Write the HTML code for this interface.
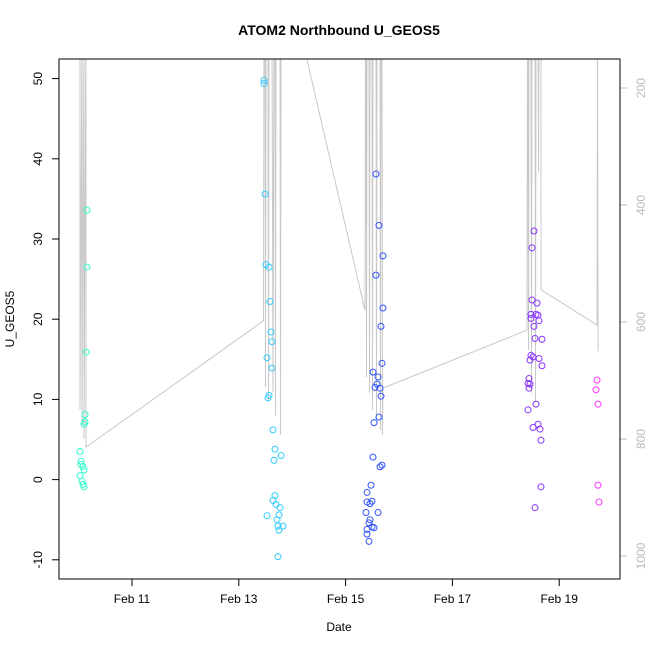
<!DOCTYPE html>
<html><head><meta charset="utf-8"><style>
body{margin:0;background:#fff;}
svg text{font-family:"Liberation Sans",sans-serif;}
</style></head><body>
<svg id="chart" width="650" height="650" xmlns="http://www.w3.org/2000/svg">
<defs><clipPath id="pc"><rect x="59" y="59" width="561" height="520"/></clipPath></defs>
<text x="339" y="35" text-anchor="middle" font-size="14" font-weight="bold">ATOM2 Northbound U_GEOS5</text>
<text x="339" y="631" text-anchor="middle" font-size="12">Date</text>
<text transform="translate(14,319) rotate(-90)" text-anchor="middle" font-size="12">U_GEOS5</text>
<g id="trace" clip-path="url(#pc)"></g>
<g id="pts"></g>
<g id="axes"></g>
<rect x="59" y="59" width="561" height="520" fill="none" stroke="#000"/>
</svg>
<script>
const xTicks=[11,13,15,17,19];
const xTickLabels=["Feb 11","Feb 13","Feb 15","Feb 17","Feb 19"];
const yTicks=[-10,0,10,20,30,40,50];
const pTicks=[200,400,600,800,1000];
const groupColors=["#33ffcc","#33ccff","#3355ff","#8833ff","#ff33ff"];
const g1Days=[10.157,10.157,10.139,10.12,10.12,10.101,10.026,10.045,10.045,10.083,10.101,10.026,10.064,10.083,10.101];
const g1Vals=[33.6,26.5,15.9,8.1,7.2,6.9,3.5,2.3,1.9,1.6,1.2,0.5,-0.2,-0.6,-0.9];
const g2Days=[13.472,13.472,13.491,13.509,13.566,13.584,13.603,13.622,13.528,13.622,13.566,13.547,13.64,13.678,13.79,13.659,13.678,13.64,13.697,13.772,13.528,13.753,13.715,13.734,13.828,13.753,13.734];
const g2Vals=[49.8,49.4,35.6,26.8,26.5,22.2,18.4,17.2,15.2,13.9,10.5,10.2,6.2,3.8,3.0,2.4,-2.0,-2.6,-3.1,-3.5,-4.5,-4.4,-5.0,-5.8,-5.8,-6.3,-9.6];
const g3Days=[15.569,15.625,15.7,15.569,15.7,15.663,15.682,15.513,15.607,15.588,15.551,15.644,15.663,15.625,15.532,15.513,15.682,15.644,15.476,15.401,15.494,15.401,15.457,15.382,15.607,15.457,15.438,15.494,15.532,15.401,15.401,15.438];
const g3Vals=[38.1,31.7,27.9,25.5,21.4,19.1,14.5,13.4,12.8,11.9,11.5,11.4,10.4,7.8,7.1,2.8,1.8,1.6,-0.7,-1.6,-2.7,-2.8,-3.0,-4.1,-4.1,-5.0,-5.4,-5.9,-6.0,-6.2,-6.8,-7.7];
const g4Days=[18.528,18.491,18.491,18.584,18.472,18.566,18.603,18.472,18.622,18.528,18.547,18.678,18.472,18.51,18.453,18.622,18.678,18.434,18.416,18.453,18.434,18.566,18.416,18.603,18.51,18.64,18.659,18.659,18.547];
const g4Vals=[31.0,28.9,22.4,22.0,20.6,20.6,20.5,20.1,19.8,19.1,17.6,17.5,15.5,15.3,14.9,15.1,14.2,12.6,12.0,11.9,11.4,9.4,8.7,6.9,6.5,6.3,4.9,-0.9,-3.5];
const g5Days=[19.708,19.689,19.727,19.727,19.745];
const g5Vals=[12.4,11.2,9.4,-0.7,-2.8];
const traceDays=[10.026,10.026,10.064,10.064,10.101,10.101,10.139,10.139,
13.463,13.472,13.491,13.5,13.509,13.528,13.547,13.556,13.566,13.603,13.622,13.64,13.659,13.678,13.687,13.697,13.715,13.734,13.753,13.772,13.781,13.79,14.146,
15.363,15.373,15.382,15.392,15.401,15.42,15.438,15.448,15.457,15.476,15.494,15.504,15.513,15.532,15.551,15.569,15.578,15.588,15.607,15.625,15.644,15.653,15.663,15.682,15.691,15.7,
18.397,18.406,18.416,18.425,18.434,18.453,18.472,18.481,18.491,18.51,18.528,18.547,18.556,18.566,18.584,18.603,18.612,18.622,18.64,18.659,18.659,19.708,19.718,19.727];
const tracePres=[100,750,100,780,100,800,100,814,
598,100,100,711,100,100,100,737,100,100,100,720,100,100,760,100,100,100,100,100,793,100,100,
580,100,100,694,100,100,100,721,100,100,100,750,100,100,100,100,768,100,100,100,100,785,100,100,793,713,
614,100,100,648,100,100,100,721,100,100,100,100,737,100,100,100,344,100,100,100,545,605,100,650];

const X=d=>132+(d-11)*53.4;
const Y=v=>479.6-v*8.02;
const YP=p=>88+(p-200)*0.585;
const NS="http://www.w3.org/2000/svg";
function mk(tag,attrs,parent){const e=document.createElementNS(NS,tag);for(const k in attrs)e.setAttribute(k,attrs[k]);parent.appendChild(e);return e;}

const trace=document.getElementById('trace');
let d="";
for(let i=0;i<traceDays.length;i++){d+=(i?"L":"M")+X(traceDays[i]).toFixed(1)+","+YP(tracePres[i]).toFixed(1);}
const tl=mk('path',{d:d,fill:"none",stroke:"#c8c8c8","stroke-width":"1"},trace);



const pts=document.getElementById('pts');
const groups=[[g1Days,g1Vals],[g2Days,g2Vals],[g3Days,g3Vals],[g4Days,g4Vals],[g5Days,g5Vals]];
groups.forEach((g,gi)=>{
  for(let i=0;i<g[0].length;i++){
    const c=mk('circle',{cx:X(g[0][i]),cy:Y(g[1][i]),r:3,fill:"none",stroke:groupColors[gi],"stroke-width":"1"},pts);
    
    
  }
});

const ax=document.getElementById('axes');
xTicks.forEach((t,i)=>{
  const x=X(t);
  const l=mk('line',{x1:x,x2:x,y1:579,y2:586,stroke:"#000"},ax);
  
  
  const tx=mk('text',{x:x,y:603,"text-anchor":"middle","font-size":"12"},ax);
  tx.textContent=xTickLabels[i];
  
  
});
yTicks.forEach(t=>{
  const y=Y(t);
  const l=mk('line',{x1:52,x2:59,y1:y,y2:y,stroke:"#000"},ax);
  
  
  const tx=mk('text',{transform:`translate(42,${y}) rotate(-90)`,"text-anchor":"middle","font-size":"12"},ax);
  tx.textContent=t;
  
  
});
pTicks.forEach(t=>{
  const y=YP(t);
  const l=mk('line',{x1:620,x2:627,y1:y,y2:y,stroke:"#bbb"},ax);
  
  
  const tx=mk('text',{transform:`translate(645,${y}) rotate(-90)`,"text-anchor":"middle","font-size":"12",fill:"#bbb"},ax);
  tx.textContent=t;
  
  
});
</script>
</body></html>
